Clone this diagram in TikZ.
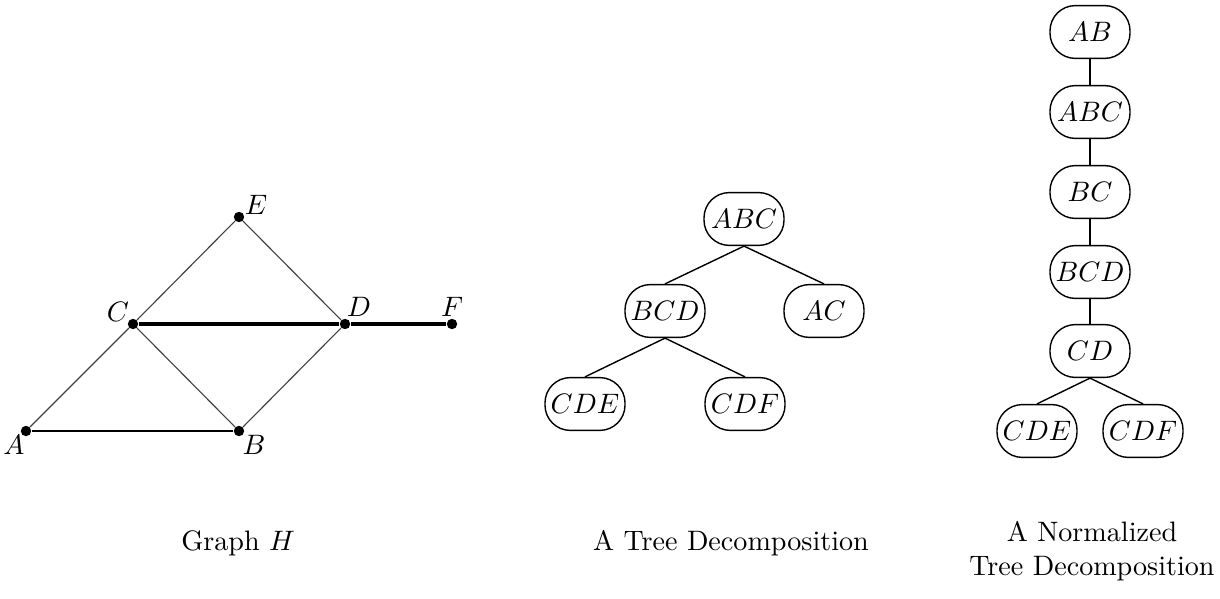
\documentclass[tikz,border=0pt]{standalone}
\usepackage{amsmath, amssymb}
\usepackage{tikz}
\usetikzlibrary{positioning}

\begin{document}
\begin{tikzpicture}[x=0.0125cm,y=-0.0125cm,
  vertex/.style={circle,fill,inner sep=0pt,minimum size=0.13cm},
  vlabel/.style={inner sep=0pt},
  bag/.style={draw,line width=0.5pt,rounded corners=9pt,minimum width=1cm,minimum height=0.66cm,inner sep=1pt},
  thinedge/.style={line width=0.4pt,black!75},
  treeedge/.style={line width=0.5pt}]
\useasboundingbox (0,0) rectangle (1220,598);

% Graph H
\node[vertex] (A) at (26,431) {};
\node[vertex] (B) at (239,431) {};
\node[vertex] (C) at (133,324) {};
\node[vertex] (D) at (345,324) {};
\node[vertex] (E) at (239,217) {};
\node[vertex] (F) at (452,324) {};
\node[vlabel] (lA) at (14,445) {$A$};
\node[vlabel] (lB) at (254,445) {$B$};
\node[vlabel] (lC) at (118,312) {$C$};
\node[vlabel] (lD) at (359,307) {$D$};
\node[vlabel] (lE) at (256,205) {$E$};
\node[vlabel] (lF) at (452,307) {$F$};
\draw[thinedge] (C) -- (E) -- (D) -- (B) -- (C) -- (A);
\draw[line width=0.8pt] (A) -- (B);
\draw[line width=1.1pt] (C) -- (D) -- (F);

% Tree decomposition
\node[bag] (abc) at (744,219) {$ABC$};
\node[bag] (bcd) at (665,311) {$BCD$};
\node[bag] (ac)  at (824,311) {$AC$};
\node[bag] (cde) at (585,404) {$CDE$};
\node[bag] (cdf) at (745,404) {$CDF$};
\draw[treeedge] (abc.south) -- (bcd.north);
\draw[treeedge] (abc.south) -- (ac.north);
\draw[treeedge] (bcd.south) -- (cde.north);
\draw[treeedge] (bcd.south) -- (cdf.north);

% Normalized tree decomposition
\node[bag] (nab)  at (1090,32)  {$AB$};
\node[bag] (nabc) at (1090,112) {$ABC$};
\node[bag] (nbc)  at (1090,192) {$BC$};
\node[bag] (nbcd) at (1090,272) {$BCD$};
\node[bag] (ncd)  at (1090,351) {$CD$};
\node[bag] (ncde) at (1037,431) {$CDE$};
\node[bag] (ncdf) at (1143,431) {$CDF$};
\foreach \u/\v in {nab/nabc,nabc/nbc,nbc/nbcd,nbcd/ncd}
  \draw[line width=0.8pt] (\u.south) -- (\v.north);
\draw[treeedge] (ncd.south) -- (ncde.north);
\draw[treeedge] (ncd.south) -- (ncdf.north);

% Captions
\node (capH) at (238,543) {Graph $H$};
\node (capT) at (731,543) {A Tree Decomposition};
\node[align=center] (capN) at (1092,551) {A Normalized\\Tree Decomposition};
\end{tikzpicture}
\end{document}
